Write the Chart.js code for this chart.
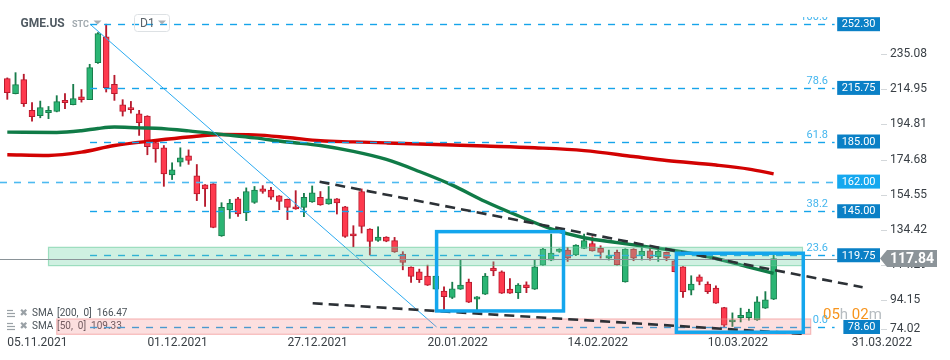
<!DOCTYPE html>
<html><head><meta charset="utf-8">
<script src="https://cdn.jsdelivr.net/npm/chart.js@4.4.0/dist/chart.umd.min.js"></script>
<style>html,body{margin:0;padding:0;background:#fff;}canvas{display:block;}</style>
</head><body>
<canvas id="c" width="950" height="360"></canvas>
<script>
// ---------- data ----------
const symbol = 'GME.US';
const opens = [221.1,212.5,220.5,202.9,199.8,201.5,202.3,208.6,206.1,210.7, 209.0,230.3,245.0,217.8,206.1,204.4,200.9,199.6,184.4,181.4, 165.9,173.1,176.8,165.3,160.1,160.7,130.8,145.7,152.1,144.0, 150.1,157.8,157.2,153.8,151.8,147.6,147.2,150.3,153.0,149.2, 152.1,147.6,132.1,156.3,134.8,128.3,130.2,128.1,120.4,112.9, 110.3,107.8,100.3,99.2,95.5,100.3,104.3,94.55,97.4,112.4, 110.3,100.3,98.3,102.8,100.3,114.1,117.0,122.0,122.7,119.9, 123.7,126.5,123.7,118.1,121.4,104.5,123.3,119.5,122.3,118.9, 121.4,116.6,113.1,99.7,107.4,103.2,100.9,89.7,81.5,84.0, 84.0,82.6,89.4,94.55];
const highs = [221.5,224.5,223.6,207.3,208.2,205.1,211.3,212.5,217.8,214.8, 229.3,247.5,252.3,223.0,209.0,208.0,202.9,199.8,184.6,182.7, 172.8,181.4,180.2,171.8,160.3,160.9,149.9,151.8,153.0,158.4, 159.2,159.7,158.7,154.0,152.0,156.8,155.3,159.5,156.3,159.2, 152.3,147.8,136.7,157.8,135.0,136.1,130.4,130.0,121.8,113.1, 111.8,114.1,108.0,101.6,104.3,117.2,106.1,96.1,109.3,116.0, 110.8,106.4,103.5,104.5,117.0,123.7,131.9,123.5,124.2,125.8, 131.9,130.4,125.2,122.7,122.7,123.5,123.5,124.2,124.0,124.2, 121.6,116.8,113.3,108.0,108.5,104.5,102.2,89.9,86.7,89.4, 88.8,96.0,98.9,121.4];
const lows = [209.2,212.3,205.1,196.7,198.6,198.1,202.0,203.8,206.0,207.6, 209.0,229.8,213.4,208.6,199.6,201.3,188.5,177.4,173.1,159.3, 163.2,170.8,171.9,151.1,147.8,135.5,130.6,140.9,142.1,139.6, 149.5,155.3,151.8,145.9,140.2,146.1,141.9,150.1,148.4,149.0, 143.4,130.0,124.6,132.5,119.9,127.7,127.5,121.4,111.4,104.1, 104.1,102.4,100.1,88.4,94.9,100.1,92.6,87.8,97.2,108.0, 97.8,97.8,94.9,98.3,100.1,113.9,116.6,121.4,116.2,119.5, 123.5,122.1,118.1,117.0,114.1,104.3,116.6,117.0,117.0,116.2, 116.6,110.2,95.5,97.0,102.8,97.8,92.1,78.6,78.9,81.5, 82.5,82.4,89.2,94.3];
const closes = [213.0,217.6,206.7,199.2,204.4,202.9,207.9,207.3,209.6,209.0, 227.4,246.9,215.9,212.5,202.3,203.3,195.8,182.1,180.7,166.4, 168.7,175.6,174.1,154.9,157.8,135.7,147.2,149.5,143.4,156.3, 157.2,156.4,153.0,150.7,147.2,146.3,153.0,155.5,148.6,152.1, 149.8,130.6,130.8,136.3,127.7,130.2,127.9,121.6,115.6,107.6, 105.8,102.6,107.8,96.0,100.5,102.6,92.8,95.9,107.8,110.8, 98.0,98.0,102.6,101.2,113.1,123.3,121.0,123.3,118.1,125.6, 128.1,122.3,121.4,119.5,114.3,123.3,118.1,122.0,118.1,122.0, 118.1,110.4,98.9,103.2,104.7,98.9,92.3,79.6,82.5,85.3, 87.2,93.0,94.15,117.84];

const sma200Index = [0,5,9,13,18,22,26,30,34,38,42,46,52,58,64,70,76,80,86,90,93];
const sma200Values = [177.4,177.0,178.9,182.7,185.6,187.6,189.0,188.8,187.3,185.4,184.8,184.2,183.3,182.4,181.4,179.8,176.4,174.1,171.5,169.2,166.47];
const sma50Index = [0,6,9,11,13,16,18,22,26,30,34,38,42,46,50,54,58,62,66,70,74,78,82,86,90,93];
const sma50Values = [190.4,190.2,191.2,192.5,193.3,192.8,192.6,191.1,189.1,187.1,184.7,182.7,179.3,174.7,167.8,160.0,150.6,142.4,134.9,129.8,127.0,124.4,121.6,117.9,113.0,109.33];

const yTickValues = [74.02, 94.15, 114.29, 134.42, 154.55, 174.68, 194.81, 214.95, 235.08];
const xTickIndex = [0, 17, 34, 51, 68, 85];
const xTickLabels = ['05.11.2021', '01.12.2021', '27.12.2021', '20.01.2022', '14.02.2022', '10.03.2022'];
const lastDateLabel = '31.03.2022';

const fibLevels = [252.30, 215.75, 185.00, 145.00, 119.75, 78.60];
const fibRatios = ['100.0', '78.6', '61.8', '38.2', '23.6', '0.0'];
const extraLevel = 162.00;
const lastPrice = 117.84;
const smaLegend = [['SMA', '[200,  0]  166.47'], ['SMA', '[50,  0]  109.33']];
const timerText = ['05', 'h ', '02', 'm'];

// ---------- drawing objects (index / price units) ----------
const fibDiagonal = { i0: 10.04, p0: 252.30, i1: 52.1, p1: 78.60, end: 100.4 };
const zoneGreen = { i0: 5.0, i1: 96.5, hi: 124.3, lo: 113.8 };
const zoneRed = { i0: 6.0, i1: 97.5, hi: 83.2, lo: 74.4 };
const trendLines = [ { i0: 37.9, p0: 161.95, i1: 103.8, p1: 101.4 }, { i0: 37.06, p0: 92.2, i1: 96.9, p1: 74.6 } ];
const boxes = [ { i0: 52.1, i1: 67.5, hi: 133.3, lo: 87.8 }, { i0: 81.2, i1: 96.6, hi: 120.9, lo: 75.6 } ];

// ---------- build ----------
const idx = opens.map((_, i) => i);
const up = idx.map(i => closes[i] >= opens[i]);
const GREEN = '#2bb574', GREEN_D = '#187c4b', RED = '#fe3a4e', RED_D = '#b71a2d';

const F = 'Roboto, "Open Sans", sans-serif';
Chart.defaults.font.family = F;

const overlay = {
  id: 'overlay',
  afterDatasetsDraw(chart) {
    const ctx = chart.ctx, xs = chart.scales.x, ys = chart.scales.y, ca = chart.chartArea;
    const X = v => xs.getPixelForValue(v), Y = v => ys.getPixelForValue(v);
    const seg = (x0, y0, x1, y1) => { ctx.beginPath(); ctx.moveTo(x0, y0); ctx.lineTo(x1, y1); ctx.stroke(); };
    ctx.save();

    // legend (under zones)
    ctx.font = '10px ' + F; ctx.textBaseline = 'middle';
    smaLegend.forEach((row, k) => {
      const yy = 313.5 + k * 13;
      ctx.strokeStyle = '#9aa1a6'; ctx.lineWidth = 1.2;
      seg(7, yy - 3, 13, yy - 3); seg(7, yy, 15, yy); seg(7, yy + 3, 15, yy + 3);
      ctx.fillStyle = '#9aa1a6'; ctx.font = 'bold 10px "DejaVu Sans"'; ctx.fillText('✖', 19.5, yy);
      ctx.font = '10px ' + F; ctx.fillStyle = '#4a5258';
      ctx.fillText(row[0], 32, yy); ctx.fillText(row[1], 57, yy);
    });

    // fib lines
    ctx.lineWidth = 1.4; ctx.strokeStyle = '#16a4ea'; ctx.setLineDash([7, 7]);
    fibLevels.forEach(v => { const yy = Math.round(Y(v)) + 0.5; seg(X(fibDiagonal.i0), yy, X(fibDiagonal.end), yy); });
    ctx.strokeStyle = '#4dbaf0'; ctx.lineWidth = 1.6;
    { const yy = Math.round(Y(extraLevel)) + 0.5; seg(ca.left, yy, X(fibDiagonal.end), yy); }
    ctx.setLineDash([]); ctx.lineWidth = 1; ctx.strokeStyle = '#2aaaf0';
    seg(X(fibDiagonal.i0), Y(fibDiagonal.p0), X(fibDiagonal.i1), Y(fibDiagonal.p1));

    // zones
    const zone = (z, fill, stroke) => {
      const x0 = X(z.i0), x1 = X(z.i1), y0 = Y(z.hi), y1 = Y(z.lo);
      ctx.fillStyle = fill; ctx.fillRect(x0, y0, x1 - x0, y1 - y0);
      ctx.strokeStyle = stroke; ctx.lineWidth = 1.2; ctx.strokeRect(x0, y0, x1 - x0, y1 - y0);
    };
    zone(zoneGreen, 'rgba(105,208,162,0.32)', 'rgba(95,200,150,0.55)');
    zone(zoneRed, 'rgba(242,120,120,0.24)', 'rgba(240,140,140,0.55)');

    // price line
    ctx.strokeStyle = '#8a9398'; ctx.lineWidth = 1.2;
    { const yy = Math.round(Y(lastPrice)) + 0.5; seg(ca.left, yy, ca.right, yy); }

    // trend lines
    ctx.strokeStyle = '#2c3136'; ctx.lineWidth = 2.6; ctx.setLineDash([10, 6]);
    trendLines.forEach(t => seg(X(t.i0), Y(t.p0), X(t.i1), Y(t.p1)));
    ctx.setLineDash([]);

    // blue rectangles
    ctx.strokeStyle = '#14a6ed'; ctx.lineWidth = 3.5;
    boxes.forEach(b => ctx.strokeRect(X(b.i0), Y(b.hi), X(b.i1) - X(b.i0), Y(b.lo) - Y(b.hi)));

    // fib ratio labels
    ctx.save(); ctx.beginPath(); ctx.rect(0, 17, 950, 343); ctx.clip();
    ctx.font = '11px ' + F; ctx.fillStyle = '#45b6ee'; ctx.textAlign = 'right'; ctx.textBaseline = 'alphabetic';
    fibLevels.forEach((v, k) => ctx.fillText(fibRatios[k], 828, Y(v) - 4));
    ctx.restore();

    // right-side level boxes
    ctx.font = '11px ' + F; ctx.textBaseline = 'middle'; ctx.textAlign = 'center';
    const levelBox = (v, color) => {
      const t = v.toFixed(2), w = ctx.measureText(t).width + 9, yy = Y(v);
      ctx.fillStyle = color; ctx.fillRect(ca.right - w, yy - 7, w, 14);
      ctx.fillStyle = '#ffffff'; ctx.fillText(t, ca.right - w / 2, yy + 0.5);
    };
    fibLevels.forEach(v => levelBox(v, '#0a80c6'));
    levelBox(extraLevel, '#15a8ef');

    // y axis ticks + labels
    ctx.textAlign = 'left'; ctx.font = '12px ' + F; ctx.fillStyle = '#3a4046';
    ctx.strokeStyle = '#d3d7da'; ctx.lineWidth = 1;
    yTickValues.forEach(v => {
      const yy = Math.min(Y(v), 329);
      seg(ca.right + 1, Math.round(yy) + 0.5, ca.right + 7, Math.round(yy) + 0.5);
      ctx.fillText(v.toFixed(2), 890, yy);
    });

    // last price box
    { const yy = Y(lastPrice), h = 8.5, x0 = ca.right;
      ctx.fillStyle = '#8c9499'; ctx.beginPath();
      ctx.moveTo(x0, yy); ctx.lineTo(x0 + 7, yy - h); ctx.lineTo(937, yy - h); ctx.lineTo(937, yy + h); ctx.lineTo(x0 + 7, yy + h); ctx.closePath(); ctx.fill();
      ctx.fillStyle = '#fff'; ctx.font = 'bold 14px ' + F; ctx.textAlign = 'center'; ctx.fillText(lastPrice.toFixed(2), 912, yy + 0.5); }

    // last date label
    ctx.font = '12px ' + F; ctx.fillStyle = '#3a4046'; ctx.textAlign = 'right'; ctx.fillText(lastDateLabel, 912, 342.5);

    // timer
    ctx.font = '15px ' + F; ctx.textAlign = 'left'; let tx = 823;
    timerText.forEach((t, k) => { ctx.fillStyle = k % 2 === 0 ? '#f7941d' : '#b6bcc0'; ctx.fillText(t, tx, 315); tx += ctx.measureText(t).width; });

    // header
    ctx.textAlign = 'left'; ctx.textBaseline = 'middle';
    ctx.font = 'bold 12px ' + F; ctx.fillStyle = '#505a62'; ctx.fillText(symbol, 20.5, 23.5);
    ctx.font = 'bold 9px ' + F; ctx.fillStyle = '#a2aaaf'; ctx.fillText('STC', 72, 24.5);
    ctx.fillStyle = '#a7aeb3'; ctx.beginPath(); ctx.moveTo(93.5, 20.5); ctx.lineTo(101.5, 20.5); ctx.lineTo(97.5, 24.5); ctx.closePath(); ctx.fill();
    ctx.strokeStyle = '#dde1e4'; ctx.lineWidth = 1; ctx.beginPath(); ctx.roundRect(134.5, 14.5, 35, 17, 3); ctx.stroke();
    ctx.font = '12px ' + F; ctx.fillStyle = '#5b636a'; ctx.fillText('D1', 140, 23.5);
    ctx.fillStyle = '#a9b0b5'; ctx.beginPath(); ctx.moveTo(158, 20.5); ctx.lineTo(166, 20.5); ctx.lineTo(162, 24.5); ctx.closePath(); ctx.fill();

    ctx.restore();
  }
};

new Chart(document.getElementById('c'), {
  type: 'bar',
  data: {
    datasets: [
      { type: 'line', label: 'SMA50', data: sma50Index.map((i, k) => ({ x: i, y: sma50Values[k] })), borderColor: '#107b47', borderWidth: 3.4, pointRadius: 0, cubicInterpolationMode: 'monotone', order: 0 },
      { type: 'line', label: 'SMA200', data: sma200Index.map((i, k) => ({ x: i, y: sma200Values[k] })), borderColor: '#d20202', borderWidth: 3.4, pointRadius: 0, cubicInterpolationMode: 'monotone', order: 0 },
      { label: 'body', data: idx.map(i => ({ x: i, y: [opens[i], closes[i]] })), backgroundColor: idx.map(i => up[i] ? GREEN : RED), borderColor: idx.map(i => up[i] ? GREEN_D : RED_D), borderWidth: 1, borderSkipped: false, barThickness: 6, minBarLength: 2, grouped: false, order: 1 },
      { label: 'wick', data: idx.map(i => ({ x: i, y: [lows[i], highs[i]] })), backgroundColor: idx.map(i => up[i] ? GREEN_D : RED_D), borderWidth: 0, barThickness: 1.2, grouped: false, order: 2 }
    ]
  },
  options: {
    responsive: false, animation: false, devicePixelRatio: 1,
    layout: { padding: 0, autoPadding: false },
    plugins: { legend: { display: false }, tooltip: { enabled: false } },
    scales: {
      x: {
        type: 'linear', min: -0.886, max: 105.91, offset: false,
        grid: { display: false, drawTicks: false }, border: { display: false },
        ticks: { autoSkip: false, maxRotation: 0, align: 'start', padding: 0, color: '#3a4046', font: { size: 12, family: F },
          callback: v => { const k = xTickIndex.indexOf(v); return k >= 0 ? xTickLabels[k] : ''; } },
        afterBuildTicks: s => { s.ticks = xTickIndex.map(v => ({ value: v })); },
        afterFit: s => { s.height = 24; s.paddingLeft = 0; s.paddingRight = 0; }
      },
      y: {
        type: 'linear', position: 'right', min: 73.43, max: 266.18,
        grid: { display: false }, border: { display: false }, ticks: { display: false },
        afterFit: s => { s.width = 70; s.paddingTop = 0; s.paddingBottom = 0; }
      }
    }
  },
  plugins: [overlay]
});
</script>
</body></html>
